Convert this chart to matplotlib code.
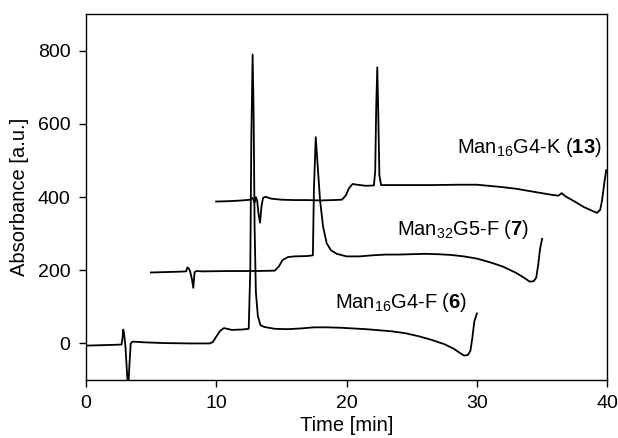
import matplotlib
matplotlib.use("Agg")
import matplotlib.pyplot as plt

# chromatogram traces: time [min], absorbance [a.u.]
t6 = [0, 1, 2, 2.75, 2.82, 2.88, 2.95, 3.05, 3.15, 3.25, 3.35, 3.45, 3.6, 4.5, 6, 8, 9.5,
      9.75, 10.0, 10.3, 10.6, 11.2, 12.0, 12.5, 12.62, 12.7, 12.8, 12.88, 12.95, 13.05, 13.2,
      13.4, 13.7, 14.5, 15.5, 16.5, 17.5, 18.5, 19.5, 20.5, 21.5, 22.5, 23.5, 24.5, 25.5,
      26.5, 27.5, 28.2, 28.7, 29.0, 29.3, 29.5, 29.65, 29.8, 30.0]
y6 = [-6, -5, -4, -3, 15, 38, 25, -10, -70, -130, -60, 0, 5, 3, 1, 0, 0,
      4, 18, 34, 42, 37, 38, 40, 200, 560, 790, 620, 320, 140, 75,
      50, 45, 40, 39, 41, 44, 44, 43, 41, 39, 36, 33, 28, 20,
      10, -2, -14, -26, -33, -32, -20, 15, 60, 82]

t7 = [5, 6, 7, 7.7, 7.8, 7.9, 8.0, 8.15, 8.25, 8.35, 8.5, 9, 11, 13, 14.5, 14.8, 15.1,
      15.5, 16, 17, 17.42, 17.5, 17.64, 17.8, 17.97, 18.2, 18.48, 18.8, 19.25, 20, 21, 22,
      23, 24, 25, 26, 27, 28, 29, 30, 31, 32, 33, 33.6, 34.05, 34.35, 34.55, 34.7, 34.85, 35.0]
y7 = [194, 195, 196, 197, 208, 205, 198, 175, 152, 195, 198, 197, 198, 198, 199, 210, 228,
      236, 238, 239, 241, 420, 564, 480, 392, 320, 274, 255, 245, 238, 238, 241,
      243, 243, 244, 245, 244, 242, 238, 232, 222, 210, 193, 180, 169, 170, 180, 215, 260, 286]

t13 = [10, 11, 12, 12.6, 12.8, 12.95, 13.05, 13.15, 13.25, 13.37, 13.48, 13.6, 13.8, 14.2, 15,
       16, 17, 18, 19, 19.65, 19.95, 20.2, 20.47, 20.8, 21.5, 22.1, 22.2, 22.28, 22.36, 22.44,
       22.52, 22.65, 23.5, 25, 26.6, 28.5, 30, 31.8, 33, 34.3, 35.8, 36.25, 36.5, 36.8, 37.5,
       38.2, 38.7, 39.2, 39.45, 39.6, 39.8, 39.92]
y13 = [388, 389, 391, 393, 398, 385, 400, 390, 355, 330, 375, 398, 401, 396, 393,
       392, 392, 391, 392, 393, 405, 425, 436, 434, 431, 432, 470, 650, 755, 620,
       460, 433, 433, 433, 433, 434, 434, 428, 423, 415, 406, 404, 411, 402, 388,
       373, 365, 357, 365, 392, 447, 474]

labels = ["Man$_{16}$G4-F ($\\mathbf{6}$)", "Man$_{32}$G5-F ($\\mathbf{7}$)",
          "Man$_{16}$G4-K ($\\mathbf{13}$)"]
label_t = [19.1, 23.9, 28.5]
label_y = [97, 296, 521]

plt.rcParams.update({"font.family": "Liberation Sans", "mathtext.fontset": "custom",
                     "mathtext.rm": "Liberation Sans", "mathtext.bf": "Liberation Sans:bold",
                     "mathtext.it": "Liberation Sans:italic"})

fig = plt.figure(figsize=(6.18, 4.38), dpi=100)
ax = fig.add_axes([0.1387, 0.1324, 0.844, 0.835])
for t, y in [(t6, y6), (t7, y7), (t13, y13)]:
    ax.plot(t, y, color="black", lw=1.3)
for s, tx, ty in zip(labels, label_t, label_y):
    ax.text(tx, ty, s, fontsize=14.5, ha="left", va="baseline")

ax.set_xlim(0, 40)
ax.set_ylim(-100, 900)
ax.set_xticks([0, 10, 20, 30, 40])
ax.set_yticks([0, 200, 400, 600, 800])
ax.tick_params(direction="out", length=5, width=1, labelsize=14, pad=6)
for sp in ax.spines.values():
    sp.set_linewidth(1.0)
ax.set_xlabel("Time [min]", fontsize=14.5, labelpad=3)
ax.set_ylabel("Absorbance [a.u.]", fontsize=14.5, labelpad=6)

fig.savefig("out.png", dpi=100)
